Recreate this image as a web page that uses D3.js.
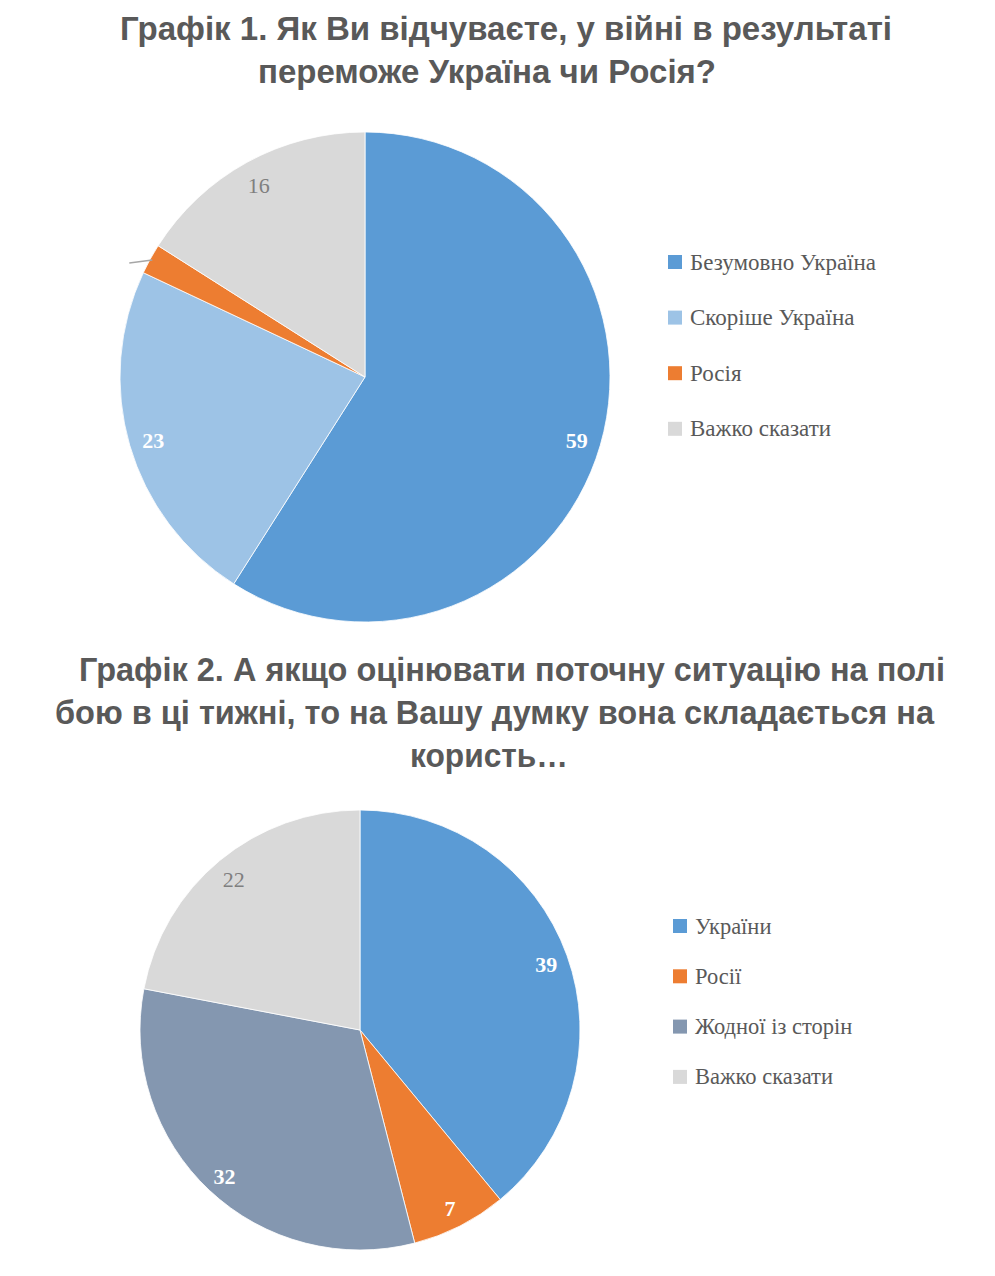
<!DOCTYPE html>
<html>
<head>
<meta charset="utf-8">
<script src="https://cdn.jsdelivr.net/npm/d3@7"></script>
<style>
  body { margin: 0; background: #fff; }
  .g-title { font-family: "Liberation Sans Narrow", "Arial Narrow", "Liberation Sans", sans-serif; font-weight: bold; fill: #595959; }
  .g-legend text { font-family: "Liberation Serif", "Times New Roman", serif; fill: #595959; }
  .g-label { font-family: "Liberation Serif", "Times New Roman", serif; font-size: 22px; }
</style>
</head>
<body>
<div class="g-chart"></div>
<script>
//Chart 1 data
var categories1 = ["Безумовно Україна", "Скоріше Україна", "Росія", "Важко сказати"];
var values1 = [59, 23, 2, 16];
var colors1 = ["#5b9bd5", "#9dc3e6", "#ed7d31", "#d9d9d9"];

//Chart 2 data
var categories2 = ["України", "Росії", "Жодної із сторін", "Важко сказати"];
var values2 = [39, 7, 32, 22];
var colors2 = ["#5b9bd5", "#ed7d31", "#8497b0", "#d9d9d9"];

//Titles
var title1 = ["Графік 1. Як Ви відчуваєте, у війні в результаті", "переможе Україна чи Росія?"];
var title2 = ["Графік 2. А якщо оцінювати поточну ситуацію на полі", "бою в ці тижні, то на Вашу думку вона складається на", "користь…"];

var width = 995, height = 1276;

var svg = d3.select(".g-chart").append("svg")
  .attr("width", width)
  .attr("height", height);

//Title lines
function drawTitle(lines, pos) {
  svg.selectAll(null)
    .data(lines)
    .enter()
    .append("text")
    .attr("class", "g-title")
    .attr("font-size", 34)
    .attr("x", function(d, i) { return pos[i].x; })
    .attr("y", function(d, i) { return pos[i].y; })
    .attr("textLength", function(d, i) { return pos[i].len; })
    .attr("lengthAdjust", "spacingAndGlyphs")
    .text(function(d) { return d; });
}

drawTitle(title1, [
  {x: 120, y: 40, len: 772},
  {x: 258, y: 83, len: 458}
]);

drawTitle(title2, [
  {x: 79, y: 681, len: 866},
  {x: 55, y: 724, len: 879},
  {x: 410, y: 767, len: 158}
]);

//Draws one pie with labels and legend
function drawPie(cats, vals, cols, opt) {
  var data = cats.map(function(c, i) { return {category: c, value: vals[i], color: cols[i]}; });

  var pie = d3.pie()
    .sort(null)
    .value(function(d) { return d.value; });

  var arc = d3.arc()
    .innerRadius(0)
    .outerRadius(opt.r);

  var labelArc = d3.arc()
    .innerRadius(opt.r * 0.9)
    .outerRadius(opt.r * 0.9);

  var g = svg.append("g")
    .attr("transform", "translate(" + opt.cx + "," + opt.cy + ")");

  var slices = pie(data);

  g.selectAll("path")
    .data(slices)
    .enter()
    .append("path")
    .attr("d", arc)
    .attr("fill", function(d) { return d.data.color; })
    .attr("stroke", "#fff")
    .attr("stroke-width", 0.8);

  //Inside labels (small slices only get a leader line)
  slices.forEach(function(d) {
    if (d.data.value < 5) {
      var a = (d.startAngle + d.endAngle) / 2;
      var x0 = Math.sin(a) * opt.r, y0 = -Math.cos(a) * opt.r;
      g.append("line")
        .attr("x1", x0 + 2).attr("y1", y0 + 1)
        .attr("x2", x0 - 21).attr("y2", y0 + 4)
        .attr("stroke", "#a6a6a6")
        .attr("stroke-width", 1.5);
      return;
    }
    var c = labelArc.centroid(d);
    var dark = d.data.color === "#d9d9d9";
    g.append("text")
      .attr("class", "g-label")
      .attr("x", c[0])
      .attr("y", c[1] + 2)
      .attr("text-anchor", "middle")
      .attr("dominant-baseline", "central")
      .attr("font-weight", dark ? "normal" : "bold")
      .attr("fill", dark ? "#7f7f7f" : "#fff")
      .text(d.data.value);
  });

  //Legend
  var legend = svg.append("g")
    .attr("class", "g-legend")
    .attr("transform", "translate(" + opt.lx + "," + opt.ly + ")");

  var rows = legend.selectAll("g")
    .data(data)
    .enter()
    .append("g")
    .attr("transform", function(d, i) { return "translate(0," + (i * opt.step) + ")"; });

  rows.append("rect")
    .attr("x", 0)
    .attr("y", -7)
    .attr("width", 14)
    .attr("height", 14)
    .attr("fill", function(d) { return d.color; });

  rows.append("text")
    .attr("x", 22)
    .attr("y", 0)
    .attr("font-size", opt.fs)
    .attr("dominant-baseline", "central")
    .text(function(d) { return d.category; });
}

drawPie(categories1, values1, colors1, {cx: 365, cy: 377, r: 245, lx: 668, ly: 262, step: 55.6, fs: 23});
drawPie(categories2, values2, colors2, {cx: 360, cy: 1030, r: 220, lx: 673, ly: 926, step: 50.3, fs: 22.5});
</script>
</body>
</html>
